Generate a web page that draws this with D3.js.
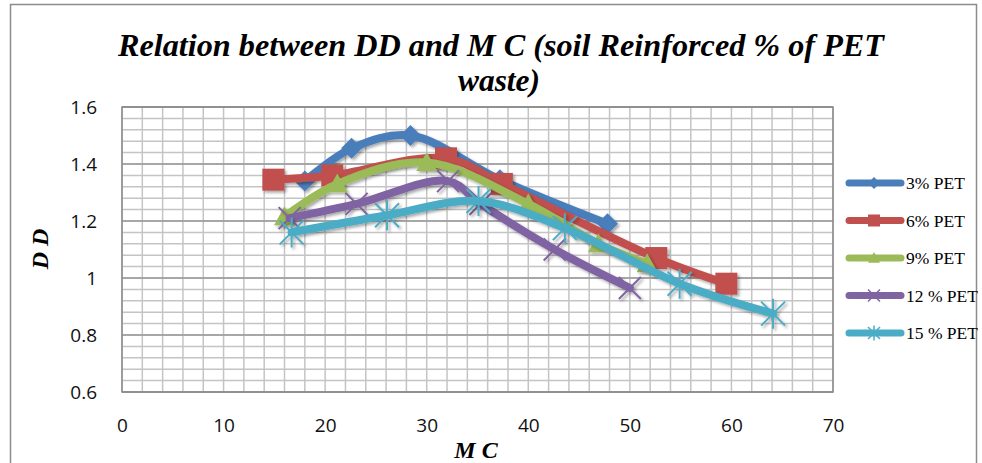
<!DOCTYPE html>
<html><head><meta charset="utf-8">
<script src="https://cdn.jsdelivr.net/npm/d3@7"></script>
<style>body{margin:0;background:#fff}svg{display:block}</style>
</head><body>
<svg id="c" width="982" height="463"></svg>
<script>
const seriesNames = ["3% PET","6% PET","9% PET","12 % PET","15 % PET"];
const seriesColors = ["#4A7EBB","#C0504D","#9BBB59","#8064A2","#4BACC6"];
const seriesMarkers = ["diamond","square","triangle","x","asterisk"];
const mc3  = [18.0, 22.6, 28.4, 37.2, 47.8];
const dd3  = [1.34, 1.455, 1.50, 1.345, 1.19];
const mc6  = [14.9, 20.7, 31.9, 37.4, 52.6, 59.5];
const dd6  = [1.345, 1.36, 1.42, 1.33, 1.07, 0.98];
const mc9  = [16.0, 21.2, 30.0, 40.0, 46.9, 51.7];
const dd9  = [1.215, 1.33, 1.405, 1.26, 1.12, 1.05];
const mc12 = [16.5, 23.1, 32.1, 35.3, 42.6, 50.0];
const dd12 = [1.21, 1.26, 1.34, 1.26, 1.10, 0.965];
const mc15 = [16.7, 26.1, 35.1, 43.6, 54.9, 64.1];
const dd15 = [1.16, 1.22, 1.27, 1.175, 0.98, 0.875];
const xTicks = [0,10,20,30,40,50,60,70];
const yTicks = [0.6,0.8,1.0,1.2,1.4,1.6];
const titleLines = ["Relation between DD and M C (soil Reinforced % of PET","waste)"];

const allX = [mc3,mc6,mc9,mc12,mc15], allY = [dd3,dd6,dd9,dd12,dd15];
const series = seriesNames.map((n,i)=>({name:n,color:seriesColors[i],marker:seriesMarkers[i],
  pts: allX[i].map((x,j)=>[x,allY[i][j]])}));

const svg = d3.select("#c");
const defs = svg.append("defs");
const f = defs.append("filter").attr("id","sh").attr("x","-50%").attr("y","-50%").attr("width","200%").attr("height","200%");
f.append("feDropShadow").attr("dx",2).attr("dy",2).attr("stdDeviation",1.6).attr("flood-color","#000").attr("flood-opacity",0.35);

svg.append("rect").attr("x",10.5).attr("y",4.5).attr("width",966).attr("height",470)
  .attr("fill","none").attr("stroke","#8c8c8c").attr("stroke-width",1.5);

const L=122,R=833,T=107,B=392;
const x = d3.scaleLinear().domain([0,70]).range([L,R]);
const y = d3.scaleLinear().domain([0.6,1.6]).range([B,T]);

const g = svg.append("g");
const vMinor = d3.range(0,70.001,2);
g.selectAll(".vg").data(vMinor).enter().append("line")
  .attr("x1",d=>x(d)).attr("x2",d=>x(d)).attr("y1",T).attr("y2",B)
  .attr("stroke","#c4c4c4").attr("stroke-width",1.5);
const hMinor = d3.range(0,25.5,1).map(k=>0.6+k*0.04);
g.selectAll(".hg").data(hMinor).enter().append("line")
  .attr("x1",L).attr("x2",R).attr("y1",d=>y(d)).attr("y2",d=>y(d))
  .attr("stroke","#c4c4c4").attr("stroke-width",1.5);
g.selectAll(".hM").data(yTicks).enter().append("line")
  .attr("x1",L).attr("x2",R).attr("y1",d=>y(d)).attr("y2",d=>y(d))
  .attr("stroke","#999").attr("stroke-width",1.5);
g.append("rect").attr("x",L).attr("y",T).attr("width",R-L).attr("height",B-T)
  .attr("fill","none").attr("stroke","#8a8a8a").attr("stroke-width",1.5);

const xa = svg.append("g").attr("transform",`translate(0,${B})`)
  .call(d3.axisBottom(x).tickValues(xTicks).tickSize(0).tickPadding(27).tickFormat(d3.format("d")));
const ya = svg.append("g").attr("transform",`translate(${L},0)`)
  .call(d3.axisLeft(y).tickValues(yTicks).tickSize(0).tickPadding(25).tickFormat(d=>d===1?"1":d3.format(".1f")(d)));
[xa,ya].forEach(a=>{a.select(".domain").remove();
  a.selectAll("text").attr("font-family","Open Sans, Liberation Sans, sans-serif").attr("font-size",19).attr("fill","#111");});

const line = d3.line().x(d=>x(d[0])).y(d=>y(d[1])).curve(d3.curveCatmullRom.alpha(0.5));
const sg = svg.append("g");
function marker(sel, type, color, s, w){
  if(type==="diamond"){
    sel.append("path").attr("d",`M0,${-s}L${s},0L0,${s}L${-s},0Z`).attr("fill",color);
  } else if(type==="square"){
    sel.append("rect").attr("x",-s).attr("y",-s).attr("width",2*s).attr("height",2*s).attr("fill",color);
  } else if(type==="triangle"){
    sel.append("path").attr("d",`M0,${-s}L${s},${s*0.8}L${-s},${s*0.8}Z`).attr("fill",color);
  } else if(type==="x"){
    sel.append("path").attr("d",`M${-s},${-s}L${s},${s}M${-s},${s}L${s},${-s}`).attr("stroke",color).attr("stroke-width",w).attr("fill","none");
  } else {
    sel.append("path").attr("d",`M${-s},${-s}L${s},${s}M${-s},${s}L${s},${-s}M0,${-s*1.25}L0,${s*1.25}`).attr("stroke",color).attr("stroke-width",w).attr("fill","none");
  }
}
const msize = {diamond:10.5,square:11,triangle:10.5,x:11,asterisk:12};
series.forEach(s=>{
  const gg = sg.append("g").attr("filter","url(#sh)");
  gg.append("path").attr("d",line(s.pts)).attr("fill","none").attr("stroke",s.color)
    .attr("stroke-width",8).attr("stroke-linecap","round").attr("stroke-linejoin","round");
  s.pts.forEach(p=>{
    const m = gg.append("g").attr("transform",`translate(${x(p[0])},${y(p[1])})`);
    marker(m, s.marker, s.color, msize[s.marker], 2);
  });
});

const tt = svg.append("text").attr("text-anchor","middle").attr("font-family","Liberation Serif, serif")
  .attr("font-weight","bold").attr("font-style","italic").attr("font-size",31).attr("fill","#000");
tt.append("tspan").attr("x",501).attr("y",56).attr("textLength",766).attr("lengthAdjust","spacingAndGlyphs").text(titleLines[0]);
tt.append("tspan").attr("x",499).attr("y",91).attr("textLength",82).attr("lengthAdjust","spacingAndGlyphs").text(titleLines[1]);

svg.append("text").attr("transform","translate(48,249) rotate(-90)").attr("text-anchor","middle")
  .attr("font-family","Liberation Serif, serif").attr("font-weight","bold").attr("font-style","italic")
  .attr("font-size",24).text("D D");
svg.append("text").attr("x",476).attr("y",458).attr("text-anchor","middle")
  .attr("font-family","Liberation Serif, serif").attr("font-weight","bold").attr("font-style","italic")
  .attr("font-size",24).text("M C");

const lg = svg.append("g");
series.forEach((s,i)=>{
  const yy = 183 + i*37.5;
  const r = lg.append("g").attr("transform",`translate(0,${yy})`);
  r.append("line").attr("x1",849).attr("x2",901).attr("y1",0).attr("y2",0)
    .attr("stroke",s.color).attr("stroke-width",7).attr("stroke-linecap","round");
  const m = r.append("g").attr("transform","translate(874,0)");
  marker(m, s.marker, s.color, 6, 1.5);
  r.append("text").attr("x",906).attr("y",0).attr("dy","0.35em").attr("font-family","Liberation Serif, serif")
    .attr("font-size",17.5).attr("fill","#000").text(s.name);
});
</script>
</body></html>
